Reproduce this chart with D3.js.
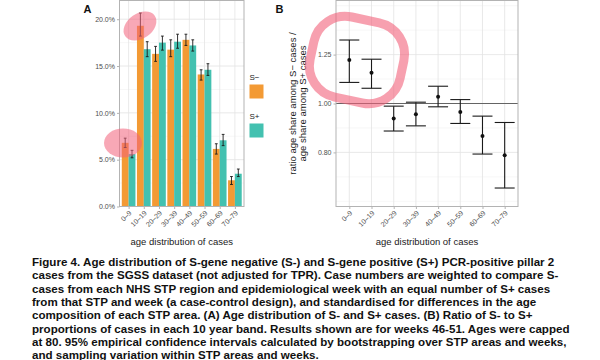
<!DOCTYPE html>
<html><head><meta charset="utf-8">
<script src="https://cdn.jsdelivr.net/npm/d3@7"></script>
<style>
html,body{margin:0;padding:0;background:#fff;}
svg{display:block;}
</style></head>
<body>
<svg id="chart" width="600" height="360"></svg>
<script>
// ---- data ----
const ageGroups = ["0–9","10–19","20–29","30–39","40–49","50–59","60–69","70–79"];
const sNeg   = [6.8, 19.3, 16.3, 16.75, 17.8, 14.1, 6.15, 2.8];
const sNegLo = [6.3, 18.2, 15.5, 16.0, 17.2, 13.5, 5.6, 2.35];
const sNegHi = [7.3, 20.66, 17.1, 17.8, 18.4, 14.6, 6.7, 3.2];
const sPos   = [5.6, 16.8, 17.5, 17.6, 17.2, 14.6, 7.07, 3.5];
const sPosLo = [5.2, 16.0, 16.7, 16.9, 16.6, 14.0, 6.5, 3.2];
const sPosHi = [6.0, 17.6, 18.2, 18.4, 17.8, 15.25, 7.7, 4.0];
const ratio   = [1.219, 1.150, 0.934, 0.952, 1.031, 0.962, 0.862, 0.790];
const ratioLo = [1.101, 1.072, 0.882, 0.903, 0.985, 0.913, 0.794, 0.680];
const ratioHi = [1.336, 1.224, 0.988, 1.006, 1.082, 1.018, 0.944, 0.917];
const yTicksA = [0, 5, 10, 15, 20];
const yMinorA = [2.5, 7.5, 12.5, 17.5];
const yTicksB = [0.8, 1.0, 1.25];
const seriesNames = ["S−", "S+"];
const captionLines = [
 "Figure 4. Age distribution of S-gene negative (S-) and S-gene positive (S+) PCR-positive pillar 2",
 "cases from the SGSS dataset (not adjusted for TPR). Case numbers are weighted to compare S-",
 "cases from each NHS STP region and epidemiological week with an equal number of S+ cases",
 "from that STP and week (a case-control design), and standardised for differences in the age",
 "composition of each STP area. (A) Age distribution of S- and S+ cases. (B) Ratio of S- to S+",
 "proportions of cases in each 10 year band. Results shown are for weeks 46-51. Ages were capped",
 "at 80. 95% empirical confidence intervals calculated by bootstrapping over STP areas and weeks,",
 "and sampling variation within STP areas and weeks."
];

// ---- styles ----
const colNeg = "#F39A34", colPos = "#43C1B0";
const gridCol = "#E3E3E3", gridMinor = "#EFEFEF", borderCol = "#B3B3B3";
const tickTextCol = "#4D4D4D";
const FONT = "Liberation Sans, Arial, Helvetica, sans-serif";

const svg = d3.select("#chart");

// ================= Panel A =================
const A = {l:119.5, r:244, t:0.5, b:206.5};
const xA = d3.scalePoint().domain(ageGroups).range([A.l, A.r]).padding(0.6);
const yA = d3.scaleLinear().domain([0, 22]).range([A.b, A.t]);
const stepA = xA.step();
const gA = svg.append("g");

// grid
gA.selectAll(".minA").data(yMinorA).join("line")
  .attr("x1", A.l).attr("x2", A.r).attr("y1", d=>yA(d)).attr("y2", d=>yA(d))
  .attr("stroke", gridMinor).attr("stroke-width", 0.5);
gA.selectAll(".majA").data(yTicksA).join("line")
  .attr("x1", A.l).attr("x2", A.r).attr("y1", d=>yA(d)).attr("y2", d=>yA(d))
  .attr("stroke", gridCol).attr("stroke-width", 0.8);
gA.selectAll(".vA").data(ageGroups).join("line")
  .attr("x1", d=>xA(d)).attr("x2", d=>xA(d)).attr("y1", A.t).attr("y2", A.b)
  .attr("stroke", gridCol).attr("stroke-width", 0.8);

// bars
const barW = stepA * 0.45;
const barsData = [];
ageGroups.forEach((g,i)=>{
  barsData.push({g, s:0, v:sNeg[i], lo:sNegLo[i], hi:sNegHi[i]});
  barsData.push({g, s:1, v:sPos[i], lo:sPosLo[i], hi:sPosHi[i]});
});
const bx = d => xA(d.g) + (d.s===0 ? -barW/2 : barW/2);
gA.selectAll(".bar").data(barsData).join("rect")
  .attr("x", d=>bx(d)-barW/2).attr("width", barW)
  .attr("y", d=>yA(d.v)).attr("height", d=>yA(0)-yA(d.v))
  .attr("fill", d=>d.s===0?colNeg:colPos);
// error bars
const capW = 1.4;
const eb = gA.selectAll(".eb").data(barsData).join("g").attr("stroke","#1a1a1a").attr("stroke-width",0.9);
eb.append("line").attr("x1", bx).attr("x2", bx).attr("y1", d=>yA(d.lo)).attr("y2", d=>yA(d.hi));
eb.append("line").attr("x1", d=>bx(d)-capW).attr("x2", d=>bx(d)+capW).attr("y1", d=>yA(d.lo)).attr("y2", d=>yA(d.lo));
eb.append("line").attr("x1", d=>bx(d)-capW).attr("x2", d=>bx(d)+capW).attr("y1", d=>yA(d.hi)).attr("y2", d=>yA(d.hi));

// border
gA.append("rect").attr("x", A.l).attr("y", A.t).attr("width", A.r-A.l).attr("height", A.b-A.t)
  .attr("fill","none").attr("stroke", borderCol).attr("stroke-width", 1);

// axes A
const axYA = gA.append("g").attr("transform", `translate(${A.l},0)`)
  .call(d3.axisLeft(yA).tickValues(yTicksA).tickFormat(d=>d3.format(".1f")(d)+"%").tickSize(2.5).tickPadding(2));
const axXA = gA.append("g").attr("transform", `translate(0,${A.b})`)
  .call(d3.axisBottom(xA).tickSize(2.5).tickPadding(2));
[axYA, axXA].forEach(ax=>{
  ax.select(".domain").remove();
  ax.selectAll(".tick line").attr("stroke", borderCol);
  ax.selectAll(".tick text").attr("fill", tickTextCol).attr("font-size", 7).attr("font-family", FONT);
});
axXA.selectAll(".tick text").attr("text-anchor","end").attr("dy", null).attr("y", 0)
  .attr("transform","translate(3,7) rotate(-45)");

gA.append("text").attr("x", (A.l+A.r)/2).attr("y", 244.5).attr("text-anchor","middle")
  .attr("font-size", 9.5).attr("font-family", FONT).attr("fill","#1a1a1a").text("age distribution of cases");
gA.append("text").attr("x", 83.5).attr("y", 12.5).attr("font-size", 11).attr("font-weight","bold")
  .attr("font-family", FONT).attr("fill","#111").text("A");

// legend
const leg = svg.append("g");
[0,1].forEach(i=>{
  const y0 = i===0 ? 72 : 111;
  leg.append("text").attr("x", 249.5).attr("y", y0+8).attr("font-size", 8).attr("font-family", FONT)
    .attr("fill","#1a1a1a").text(seriesNames[i]);
  leg.append("rect").attr("x", 249.5).attr("y", y0+12.5).attr("width", 14).attr("height", 14)
    .attr("fill", i===0?colNeg:colPos);
});

// ================= Panel B =================
const B = {l:336, r:518, t:0.5, b:206.5};
const xB = d3.scalePoint().domain(ageGroups).range([B.l, B.r]).padding(0.6);
const yB = d3.scaleLog().domain([1/1.6, 1.6]).range([B.b, B.t]);
const stepB = xB.step();
const gB = svg.append("g");
const halfStep = Math.sqrt(1.25);
const gridB = d3.range(-4, 5).map(k => ({v: Math.pow(halfStep, k), major: (k===0||Math.abs(k)===2)}));
gB.selectAll(".hB").data(gridB).join("line")
  .attr("x1", B.l).attr("x2", B.r).attr("y1", d=>yB(d.v)).attr("y2", d=>yB(d.v))
  .attr("stroke", d=>d.major?gridCol:gridMinor).attr("stroke-width", d=>d.major?0.8:0.5);
gB.selectAll(".vB").data(ageGroups).join("line")
  .attr("x1", d=>xB(d)).attr("x2", d=>xB(d)).attr("y1", B.t).attr("y2", B.b)
  .attr("stroke", gridCol).attr("stroke-width", 0.8);
// reference line at 1
gB.append("line").attr("x1", B.l).attr("x2", B.r).attr("y1", yB(1)).attr("y2", yB(1))
  .attr("stroke", "#555").attr("stroke-width", 0.9);

const ptsB = ageGroups.map((g,i)=>({g, v:ratio[i], lo:ratioLo[i], hi:ratioHi[i]}));
const capB = stepB*0.45;
const ebB = gB.selectAll(".ebB").data(ptsB).join("g").attr("stroke","#1a1a1a").attr("stroke-width",1.1);
ebB.append("line").attr("x1", d=>xB(d.g)).attr("x2", d=>xB(d.g)).attr("y1", d=>yB(d.lo)).attr("y2", d=>yB(d.hi));
ebB.append("line").attr("x1", d=>xB(d.g)-capB).attr("x2", d=>xB(d.g)+capB).attr("y1", d=>yB(d.lo)).attr("y2", d=>yB(d.lo));
ebB.append("line").attr("x1", d=>xB(d.g)-capB).attr("x2", d=>xB(d.g)+capB).attr("y1", d=>yB(d.hi)).attr("y2", d=>yB(d.hi));
gB.selectAll(".ptB").data(ptsB).join("circle")
  .attr("cx", d=>xB(d.g)).attr("cy", d=>yB(d.v)).attr("r", 2).attr("fill","#111");

gB.append("rect").attr("x", B.l).attr("y", B.t).attr("width", B.r-B.l).attr("height", B.b-B.t)
  .attr("fill","none").attr("stroke", borderCol).attr("stroke-width", 1);

const axYB = gB.append("g").attr("transform", `translate(${B.l},0)`)
  .call(d3.axisLeft(yB).tickValues(yTicksB).tickFormat(d3.format(".2f")).tickSize(2.5).tickPadding(2));
const axXB = gB.append("g").attr("transform", `translate(0,${B.b})`)
  .call(d3.axisBottom(xB).tickSize(2.5).tickPadding(2));
[axYB, axXB].forEach(ax=>{
  ax.select(".domain").remove();
  ax.selectAll(".tick line").attr("stroke", borderCol);
  ax.selectAll(".tick text").attr("fill", tickTextCol).attr("font-size", 7).attr("font-family", FONT);
});
axXB.selectAll(".tick text").attr("text-anchor","end").attr("dy", null).attr("y", 0)
  .attr("transform","translate(3,7) rotate(-45)");

gB.append("text").attr("x", (B.l+B.r)/2).attr("y", 244.5).attr("text-anchor","middle")
  .attr("font-size", 9.5).attr("font-family", FONT).attr("fill","#1a1a1a").text("age distribution of cases");
const yTitle = gB.append("text").attr("transform", `translate(296,${(B.t+B.b)/2}) rotate(-90)`)
  .attr("text-anchor","middle").attr("font-size", 9.5).attr("font-family", FONT).attr("fill","#1a1a1a");
yTitle.append("tspan").attr("x",0).attr("dy",0).text("ratio age share among S− cases /");
yTitle.append("tspan").attr("x",0).attr("dy",10).text("age share among S+ cases");
gB.append("text").attr("x", 275.5).attr("y", 12.5).attr("font-size", 11).attr("font-weight","bold")
  .attr("font-family", FONT).attr("fill","#111").text("B");

// ================= pink highlights =================
const hl = svg.append("g");
hl.append("ellipse").attr("cx", 140).attr("cy", 26).attr("rx", 18).attr("ry", 12.5)
  .attr("transform","rotate(-35 140 26)").attr("fill","#F2607A").attr("opacity",0.55);
hl.append("ellipse").attr("cx", 123).attr("cy", 143).attr("rx", 19).attr("ry", 14.5)
  .attr("fill","#F2607A").attr("opacity",0.55);
hl.append("rect").attr("x", 311).attr("y", 19).attr("width", 92).attr("height", 82).attr("rx", 32)
  .attr("transform","rotate(12 357 60)").attr("fill","none").attr("stroke","#F2607A")
  .attr("stroke-width", 9).attr("opacity",0.6);

// ================= caption =================
const cap = svg.append("g");
const capTexts = cap.selectAll("text").data(captionLines).join("text")
  .attr("x", 32).attr("y", (d,i)=>266 + i*13.3)
  .attr("font-family", FONT).attr("font-weight","bold").attr("font-size", 12).attr("fill","#111")
  .text(d=>d);
// fit font so first line spans the measured width
const w0 = capTexts.node().getComputedTextLength();
const fs = 12 * 523 / w0;
capTexts.attr("font-size", fs);
</script>
</body></html>
